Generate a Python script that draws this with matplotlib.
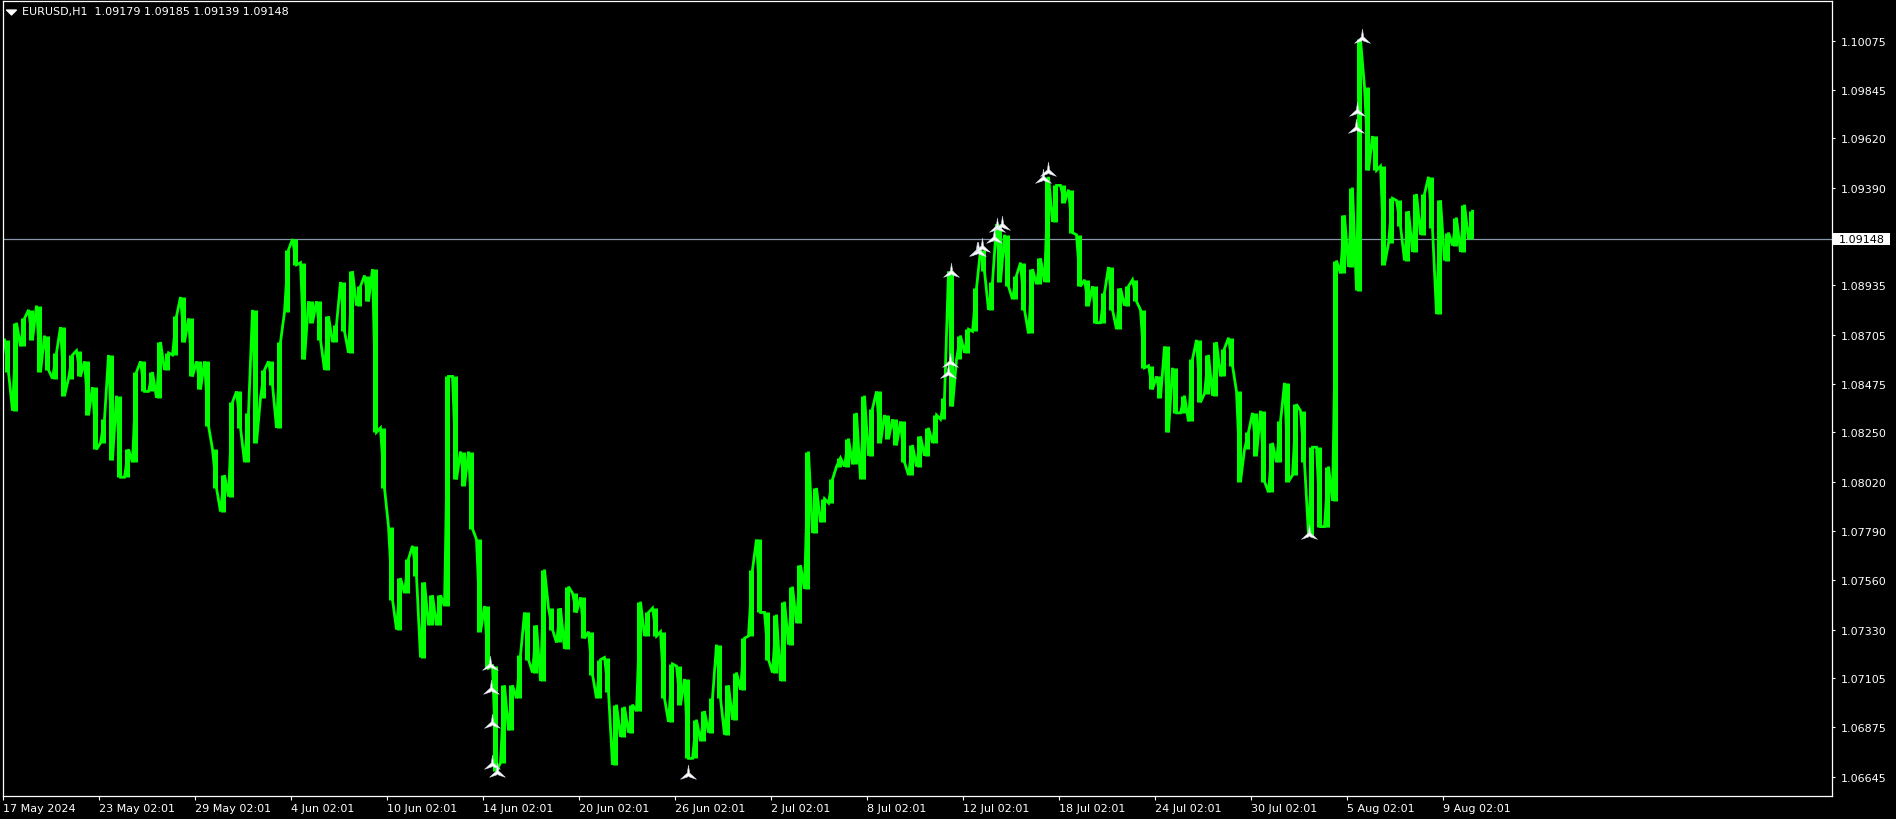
import numpy as np
import matplotlib
matplotlib.use("Agg")
import matplotlib.pyplot as plt
import matplotlib.transforms as mtransforms
from matplotlib.path import Path
from matplotlib.patches import Rectangle

# EURUSD H1, high/low of every 8 hourly bars
highs = [1.0868, 1.0876, 1.0878, 1.0882, 1.0884, 1.0870, 1.0862, 1.0874, 1.0861, 1.0863,
         1.0858, 1.0846, 1.0831, 1.0861, 1.0842, 1.0817, 1.0853, 1.0858, 1.0853, 1.0867,
         1.0862, 1.0879, 1.0888, 1.0878, 1.0858, 1.0858, 1.0817, 1.0805, 1.0839, 1.0844,
         1.0834, 1.0882, 1.0854, 1.0858, 1.0867, 1.0910, 1.0915, 1.0904, 1.0886, 1.0886,
         1.0879, 1.0875, 1.0895, 1.0900, 1.0893, 1.0898, 1.0901, 1.0827, 1.0781, 1.0757,
         1.0766, 1.0772, 1.0755, 1.0749, 1.0749, 1.0851, 1.0851, 1.0816, 1.0816, 1.0775,
         1.0744, 1.0716, 1.0707, 1.0707, 1.0721, 1.0741, 1.0735, 1.0761, 1.0743, 1.0743,
         1.0753, 1.0750, 1.0748, 1.0732, 1.0719, 1.0720, 1.0698, 1.0697, 1.0698, 1.0746,
         1.0741, 1.0743, 1.0732, 1.0717, 1.0716, 1.0710, 1.0691, 1.0695, 1.0701, 1.0726,
         1.0707, 1.0713, 1.0729, 1.0761, 1.0775, 1.0741, 1.0740, 1.0746, 1.0753, 1.0763,
         1.0816, 1.0799, 1.0794, 1.0803, 1.0813, 1.0822, 1.0834, 1.0842, 1.0836, 1.0844,
         1.0833, 1.0831, 1.0830, 1.0819, 1.0823, 1.0827, 1.0833, 1.0841, 1.0900, 1.0870,
         1.0873, 1.0892, 1.0910, 1.0895, 1.0922, 1.0917, 1.0898, 1.0904, 1.0901, 1.0906,
         1.0944, 1.0940, 1.0940, 1.0938, 1.0917, 1.0896, 1.0893, 1.0890, 1.0902, 1.0892,
         1.0893, 1.0896, 1.0882, 1.0856, 1.0851, 1.0865, 1.0855, 1.0842, 1.0859, 1.0868,
         1.0861, 1.0867, 1.0864, 1.0869, 1.0844, 1.0825, 1.0834, 1.0835, 1.0820, 1.0830,
         1.0848, 1.0838, 1.0835, 1.0818, 1.0818, 1.0809, 1.0905, 1.0926, 1.0939, 1.1008,
         1.0986, 1.0963, 1.0949, 1.0934, 1.0933, 1.0928, 1.0936, 1.0936, 1.0944, 1.0933,
         1.0918, 1.0925, 1.0931, 1.0928]
lows = [1.0853, 1.0835, 1.0865, 1.0868, 1.0853, 1.0854, 1.0850, 1.0842, 1.0850, 1.0851,
        1.0833, 1.0817, 1.0820, 1.0812, 1.0804, 1.0804, 1.0811, 1.0844, 1.0844, 1.0841,
        1.0854, 1.0861, 1.0867, 1.0851, 1.0845, 1.0828, 1.0799, 1.0788, 1.0795, 1.0827,
        1.0811, 1.0820, 1.0841, 1.0847, 1.0827, 1.0881, 1.0903, 1.0859, 1.0876, 1.0868,
        1.0854, 1.0867, 1.0872, 1.0862, 1.0884, 1.0886, 1.0825, 1.0799, 1.0747, 1.0733,
        1.0750, 1.0758, 1.0720, 1.0735, 1.0735, 1.0744, 1.0803, 1.0800, 1.0780, 1.0732,
        1.0715, 1.0667, 1.0671, 1.0686, 1.0701, 1.0719, 1.0713, 1.0709, 1.0733, 1.0727,
        1.0724, 1.0741, 1.0729, 1.0712, 1.0701, 1.0704, 1.0670, 1.0683, 1.0685, 1.0695,
        1.0730, 1.0730, 1.0701, 1.0690, 1.0698, 1.0673, 1.0673, 1.0681, 1.0685, 1.0701,
        1.0684, 1.0691, 1.0705, 1.0730, 1.0741, 1.0719, 1.0713, 1.0709, 1.0726, 1.0736,
        1.0752, 1.0778, 1.0783, 1.0792, 1.0809, 1.0809, 1.0810, 1.0803, 1.0814, 1.0820,
        1.0822, 1.0819, 1.0811, 1.0805, 1.0809, 1.0814, 1.0820, 1.0831, 1.0837, 1.0859,
        1.0862, 1.0872, 1.0900, 1.0882, 1.0895, 1.0893, 1.0887, 1.0882, 1.0871, 1.0894,
        1.0895, 1.0923, 1.0932, 1.0918, 1.0893, 1.0884, 1.0876, 1.0876, 1.0882, 1.0873,
        1.0884, 1.0886, 1.0855, 1.0845, 1.0841, 1.0825, 1.0834, 1.0834, 1.0830, 1.0839,
        1.0843, 1.0842, 1.0851, 1.0856, 1.0802, 1.0817, 1.0814, 1.0802, 1.0797, 1.0811,
        1.0802, 1.0805, 1.0811, 1.0777, 1.0781, 1.0781, 1.0793, 1.0899, 1.0902, 1.0891,
        1.0947, 1.0947, 1.0903, 1.0913, 1.0921, 1.0905, 1.0909, 1.0917, 1.0920, 1.0880,
        1.0905, 1.0912, 1.0909, 1.0915]

# fractal arrows: bar number and price
arrow_bars = [487, 488, 489, 489, 494, 685, 945, 947, 948, 974, 975, 979, 991, 994, 999,
              1040, 1045, 1306, 1353, 1354, 1359]
arrow_prices = [1.0717, 1.0706, 1.0690, 1.0671, 1.0667, 1.0666, 1.0853, 1.0858, 1.0900,
                1.0910, 1.0910, 1.0912, 1.0916, 1.0921, 1.0922, 1.0944, 1.0947, 1.0778,
                1.0967, 1.0975, 1.1009]

date_labels = ["17 May 2024", "23 May 02:01", "29 May 02:01", "4 Jun 02:01", "10 Jun 02:01",
               "14 Jun 02:01", "20 Jun 02:01", "26 Jun 02:01", "2 Jul 02:01", "8 Jul 02:01",
               "12 Jul 02:01", "18 Jul 02:01", "24 Jul 02:01", "30 Jul 02:01", "5 Aug 02:01",
               "9 Aug 02:01"]
price_ticks = [1.10075, 1.09845, 1.09620, 1.09390, 1.08935, 1.08705, 1.08475, 1.08250,
               1.08020, 1.07790, 1.07560, 1.07330, 1.07105, 1.06875, 1.06645]
last_price = 1.09148
header = "EURUSD,H1  1.09179 1.09185 1.09139 1.09148"

W, H = 1896, 820
fig = plt.figure(figsize=(W / 100, H / 100), dpi=100, facecolor="black")
ax = fig.add_axes([2.5 / W, (H - 796.5) / H, (1832.3 - 2.5) / W, (796.5 - 2.3) / H])
ax.set_facecolor("black")

highs = np.array(highs)
lows = np.array(lows)
step = 8
xpos = np.arange(len(highs)) * step + step / 2 - 0.5

# range bars per block
ax.vlines(xpos, lows, highs, color="#00ff00", lw=3.6, zorder=2)

# zigzag through the block highs and lows, following the direction of the move
mid = (highs + lows) / 2
zx, zy = [], []
for k in range(len(highs)):
    nxt = mid[k + 1] if k + 1 < len(mid) else mid[k]
    if nxt >= mid[k]:
        pair = (lows[k], highs[k])
    else:
        pair = (highs[k], lows[k])
    zx += [xpos[k] - 2, xpos[k] + 2]
    zy += list(pair)
ax.plot(zx, zy, color="#00ff00", lw=2.0, solid_joinstyle="miter", zorder=2)

ax.axhline(last_price, color="#8796a8", lw=0.9, zorder=1)

# white swept-wing arrow
verts = [(0, 1.0), (0.14, 0.05), (0.95, -0.7), (0.12, -0.42), (0, -0.3),
         (-0.12, -0.42), (-0.95, -0.7), (-0.14, 0.05), (0, 1.0)]
arrow_path = Path(verts, [Path.MOVETO] + [Path.LINETO] * 7 + [Path.CLOSEPOLY])
ax.plot(arrow_bars, arrow_prices, linestyle="none", marker=arrow_path, ms=12,
        mfc="white", mec="#c8d0e0", mew=0.4, zorder=3)

ax.set_xlim(-0.5, 1829.3)
ax.set_ylim(1.06557, 1.10258)

ax.set_xticks(np.arange(len(date_labels)) * 96)
ax.set_xticklabels(date_labels, ha="left")
ax.yaxis.tick_right()
ax.set_yticks(price_ticks)
ax.set_yticklabels([f"{p:.5f}" for p in price_ticks])
ax.tick_params(axis="x", colors="white", labelsize=8, length=3, width=0.8, pad=2.5)
ax.tick_params(axis="y", colors="white", labelsize=8, length=2.5, width=0.8, pad=3.5)
for s in ax.spines.values():
    s.set_color("white")
    s.set_linewidth(0.9)

# last price box on the scale
tr = mtransforms.blended_transform_factory(ax.transAxes, ax.transData)
half = 6 * (1.10258 - 1.06557) / (796.5 - 2.3)
ax.add_patch(Rectangle((1.0004, last_price - half), 0.0312, 2 * half, transform=tr,
                       facecolor="white", edgecolor="none", clip_on=False, zorder=5))
ax.text(1.0037, last_price, f"{last_price:.5f}", transform=tr, color="black",
        fontsize=8, va="center", ha="left", zorder=6, clip_on=False)

# header text with small triangle
tri = Path([(-1, 0.5), (1, 0.5), (0, -0.5), (-1, 0.5)],
           [Path.MOVETO, Path.LINETO, Path.LINETO, Path.CLOSEPOLY])
fig.lines.append(plt.Line2D([10.5 / W], [(H - 12.5) / H], marker=tri, ms=7,
                            color="white", linestyle="none", transform=fig.transFigure))
fig.text(22 / W, (H - 12.5) / H, header, color="white", fontsize=8, va="center", ha="left")

fig.savefig("out.png", dpi=100, facecolor="black")
